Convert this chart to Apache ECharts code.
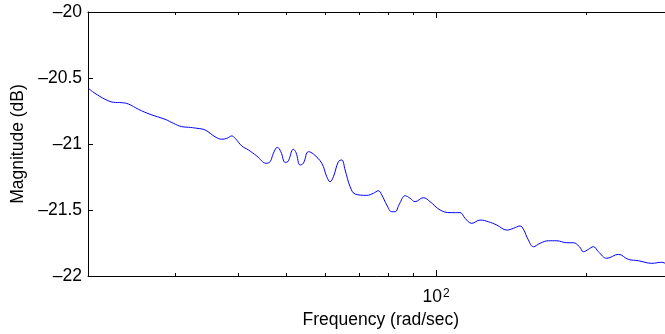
<!DOCTYPE html>
<html><head><meta charset="utf-8">
<script src="https://cdn.jsdelivr.net/npm/echarts@6/dist/echarts.min.js"></script>
<style>html,body{margin:0;padding:0;background:#fff}#c{width:665px;height:334px}</style>
</head><body><div id="c"></div>
<script>
// Frequency (rad/sec)
const freq = [20.00, 20.66, 21.64, 22.49, 23.38, 24.11, 25.25, 26.65, 28.56, 29.68, 30.86, 31.82,
  33.08, 34.38, 35.98, 37.12, 38.00, 38.89, 39.49, 40.73, 41.99, 43.65, 45.57, 46.42, 47.13, 48.01,
  48.78, 49.76, 50.38, 51.69, 52.34, 53.31, 54.13, 55.42, 56.71, 58.95, 60.32, 61.25, 62.20, 63.65,
  64.66, 65.66, 67.21, 68.78, 72.58, 74.82, 76.57, 77.80, 79.61, 81.47, 82.72, 84.39, 86.66, 88.67,
  90.74, 94.30, 97.27, 101.86, 106.68, 111.73, 114.34, 117.93, 122.56, 127.35, 132.40, 138.67,
  142.95, 147.46, 149.72, 153.21, 156.80, 161.73, 168.07, 174.72, 182.96, 188.64, 194.01, 197.63,
  202.24, 206.97, 211.80, 220.20, 232.32, 243.27, 254.79, 271.07, 283.93, 288.4];
// Magnitude (dB)
const magnitude = [-20.576, -20.616, -20.661, -20.684, -20.687, -20.697, -20.737, -20.775, -20.813,
  -20.843, -20.869, -20.873, -20.881, -20.894, -20.945, -20.964, -20.957, -20.939, -20.957, -21.015,
  -21.045, -21.091, -21.146, -21.134, -21.070, -21.025, -21.058, -21.139, -21.134, -21.040, -21.066,
  -21.159, -21.146, -21.058, -21.076, -21.146, -21.248, -21.286, -21.248, -21.134, -21.121, -21.197,
  -21.324, -21.379, -21.389, -21.374, -21.354, -21.386, -21.462, -21.513, -21.513, -21.455, -21.392,
  -21.411, -21.437, -21.407, -21.437, -21.500, -21.520, -21.520, -21.563, -21.601, -21.576, -21.589,
  -21.614, -21.652, -21.639, -21.621, -21.646, -21.727, -21.778, -21.752, -21.733, -21.733, -21.748,
  -21.748, -21.778, -21.816, -21.798, -21.778, -21.816, -21.866, -21.836, -21.874, -21.884, -21.904,
  -21.896, -21.904];
const minorTickFreqs = [30, 40, 50, 60, 70, 80, 90, 200, 300];
const majorTickFreqs = [100];
const xLabelFreqs = [100];
const xMin = 20, xMax = 300;
const yMin = -22, yMax = -20, yStep = 0.5;
const xTitle = 'Frequency (rad/sec)';
const yTitle = 'Magnitude (dB)';

const data = freq.map((f, i) => [f, magnitude[i]]);
const FONT = '"Liberation Sans", Arial, sans-serif';
const FS = 17.5;

function xAxisDef(pos, ticks, len, opts) {
  return Object.assign({
    type: 'log', logBase: 10, min: xMin, max: xMax, position: pos,
    axisLine: { show: false },
    axisTick: { show: true, inside: true, length: len, customValues: ticks,
      lineStyle: { color: '#000', width: 1 } },
    axisLabel: { show: false },
    splitLine: { show: false }, minorTick: { show: false }, minorSplitLine: { show: false }
  }, opts || {});
}

const chart = echarts.init(document.getElementById('c'), null, { renderer: 'canvas' });
chart.setOption({
  animation: false,
  backgroundColor: '#fff',
  textStyle: { fontFamily: FONT },
  grid: { left: 88, top: 12, right: -8.7, bottom: 58, containLabel: false, outerBoundsMode: 'none' },
  xAxis: [
    xAxisDef('bottom', minorTickFreqs, 3, {
      axisLine: { show: true, lineStyle: { color: '#000', width: 1 } },
      axisLabel: {
        show: true, customValues: xLabelFreqs, margin: 12, color: '#000',
        formatter: v => '{b|10}{s|' + Math.round(Math.log10(v)) + '}',
        rich: {
          b: { fontSize: FS, fontFamily: FONT, color: '#000', verticalAlign: 'bottom' },
          s: { fontSize: 12, fontFamily: FONT, color: '#000', verticalAlign: 'top', padding: [0, 0, 0, 1] }
        }
      },
      name: xTitle, nameLocation: 'middle', nameGap: 34,
      nameTextStyle: { fontSize: FS, fontFamily: FONT, color: '#000' }
    }),
    xAxisDef('bottom', majorTickFreqs, 6),
    xAxisDef('top', minorTickFreqs, 3, {
      axisLine: { show: true, lineStyle: { color: '#000', width: 1 } }
    }),
    xAxisDef('top', majorTickFreqs, 6)
  ],
  yAxis: [{
    type: 'value', min: yMin, max: yMax, interval: yStep, position: 'left',
    axisLine: { show: true, lineStyle: { color: '#000', width: 1 } },
    axisTick: { show: true, inside: true, length: 5, lineStyle: { color: '#000' } },
    axisLabel: { margin: 6, color: '#000', fontSize: FS, fontFamily: FONT,
      formatter: v => String(v).replace('-', '\u2013') },
    splitLine: { show: false },
    name: yTitle, nameLocation: 'middle', nameGap: 61, nameRotate: 90,
    nameTextStyle: { fontSize: FS, fontFamily: FONT, color: '#000' }
  }],
  series: [{
    type: 'line', xAxisIndex: 0, yAxisIndex: 0, data: data,
    showSymbol: false, smooth: 0.4,
    lineStyle: { color: '#0000ff', width: 1 }
  }]
});
</script>
</body></html>
